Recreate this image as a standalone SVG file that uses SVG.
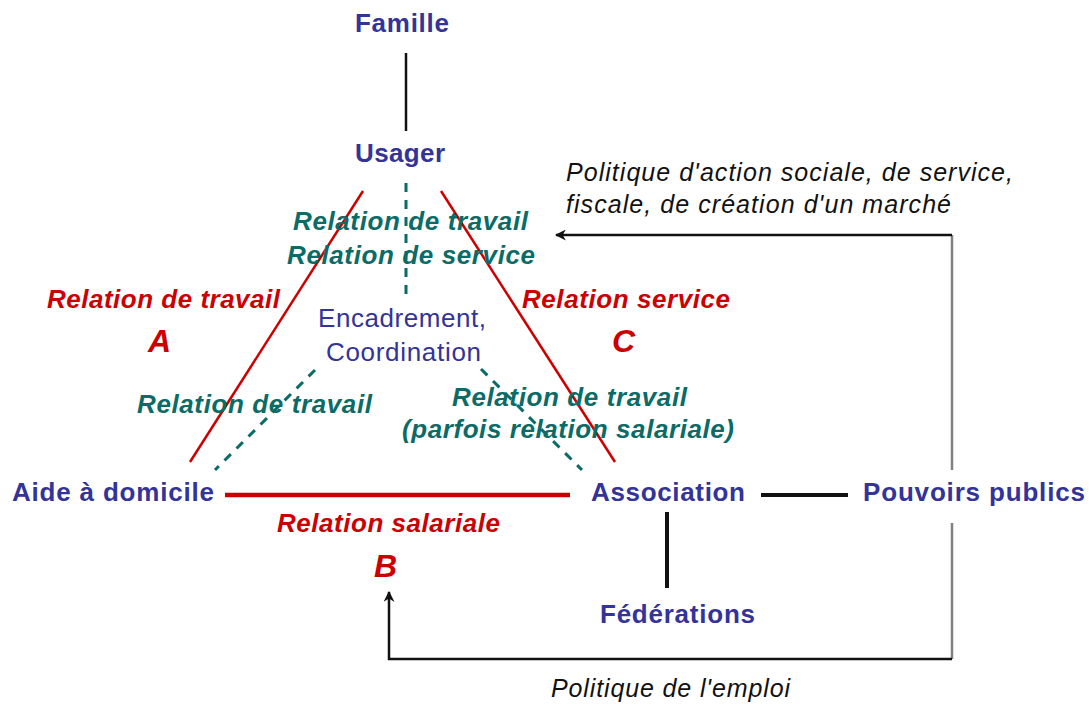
<svg xmlns="http://www.w3.org/2000/svg" width="1089" height="704" viewBox="0 0 1089 704">
<style>
.node{font-family:"Liberation Sans",Arial,sans-serif;font-weight:bold;font-size:26px;fill:#333399}
.light{font-family:"Liberation Sans",Arial,sans-serif;font-size:26px;fill:#333399}
.red{font-family:"Liberation Sans",Arial,sans-serif;font-weight:bold;font-style:italic;font-size:26px;fill:#cc0000}
.big{font-size:32px}
.teal{font-family:"Liberation Sans",Arial,sans-serif;font-weight:bold;font-style:italic;font-size:26px;fill:#0b6b66}
.pol{font-family:"Liberation Sans",Arial,sans-serif;font-style:italic;font-size:25px;fill:#111}
.redl{stroke:#cc0000;stroke-width:2.5;fill:none}
.dash{stroke:#0b6b66;stroke-width:3;stroke-dasharray:9 8;fill:none}
.blk{stroke:#111;stroke-width:4;fill:none}
.arr{stroke:#111;stroke-width:2.5;fill:none}
.gray{stroke:#808080;stroke-width:2.5;fill:none}
</style>
<defs>
<marker id="ah" viewBox="0 0 10 10" refX="9" refY="5" markerWidth="4.4" markerHeight="4.4" orient="auto">
<path d="M0,0 L10,5 L0,10 L3,5 z" fill="#111"/>
</marker>
</defs>
<rect width="1089" height="704" fill="#ffffff"/>
<g id="connectors">
<line x1="406" y1="53" x2="406" y2="131" stroke="#111" stroke-width="2.5"/>
<line class="dash" x1="406" y1="183" x2="406" y2="297"/>
<line class="redl" x1="363" y1="191" x2="190" y2="462"/>
<line class="redl" x1="441" y1="191" x2="615" y2="462"/>
<line class="dash" x1="315" y1="370" x2="215" y2="470"/>
<line class="dash" x1="481" y1="369" x2="582" y2="470"/>
<line x1="225" y1="495" x2="570" y2="495" stroke="#cc0000" stroke-width="4.5"/>
<line class="blk" x1="761" y1="495" x2="848" y2="495"/>
<line class="blk" x1="667" y1="512" x2="667" y2="588"/>
<polyline class="gray" points="952,470 952,235"/>
<line class="arr" x1="952" y1="235" x2="556" y2="235" marker-end="url(#ah)"/>
<polyline class="gray" points="952,523 952,659"/>
<polyline class="arr" points="952,659 389,659 389,592" marker-end="url(#ah)"/>
</g>
<g id="famille"><text class="node" x="355" y="32" textLength="94">Famille</text></g>
<g id="usager"><text class="node" x="355" y="162" textLength="90">Usager</text></g>
<g id="encadrement">
<text class="light" x="318" y="327" textLength="168">Encadrement,</text>
<text class="light" x="326" y="361" textLength="155">Coordination</text>
</g>
<g id="aide"><text class="node" x="12" y="501" textLength="202">Aide à domicile</text></g>
<g id="association"><text class="node" x="591" y="501" textLength="154">Association</text></g>
<g id="pouvoirs"><text class="node" x="863" y="501" textLength="222">Pouvoirs publics</text></g>
<g id="federations"><text class="node" x="600" y="623" textLength="155">Fédérations</text></g>
<g id="labels">
<text class="teal" x="293" y="230" textLength="235">Relation de travail</text>
<text class="teal" x="287" y="264" textLength="248">Relation de service</text>
<text class="red" x="47" y="308" textLength="233">Relation de travail</text>
<text class="red big" x="148" y="352">A</text>
<text class="red" x="522" y="308" textLength="208">Relation service</text>
<text class="red big" x="612" y="352">C</text>
<text class="teal" x="137" y="413" textLength="235">Relation de travail</text>
<text class="teal" x="452" y="406" textLength="235">Relation de travail</text>
<text class="teal" x="402" y="438" textLength="332">(parfois relation salariale)</text>
<text class="red" x="277" y="532" textLength="223">Relation salariale</text>
<text class="red big" x="374" y="577">B</text>
<text class="pol" x="566" y="181" textLength="447">Politique d'action sociale, de service,</text>
<text class="pol" x="566" y="213" textLength="385">fiscale, de création d'un marché</text>
<text class="pol" x="551" y="697" textLength="239">Politique de l'emploi</text>
</g>
</svg>
